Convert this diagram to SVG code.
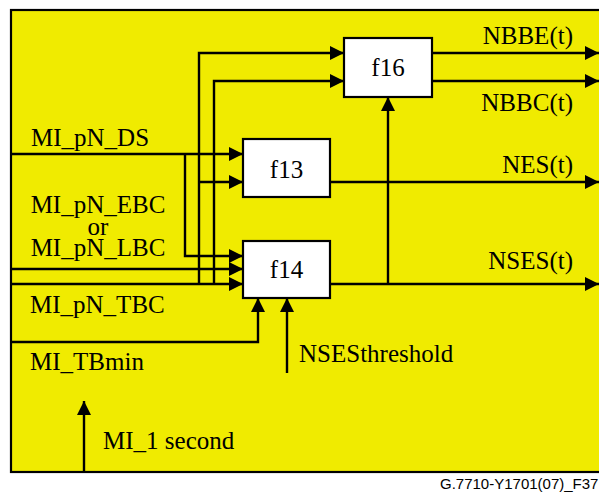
<svg xmlns="http://www.w3.org/2000/svg" width="599" height="493" viewBox="0 0 599 493">
<style>
.ln{fill:none;stroke:#000;stroke-width:2.4;}
.ar{fill:none;stroke:#000;stroke-width:2.4;marker-end:url(#ah);}
.box{fill:#fff;stroke:#000;stroke-width:2.2;}
.t{font-family:"Liberation Serif","Times New Roman",serif;font-size:25px;fill:#000;}
.c{text-anchor:middle;}
.e{text-anchor:end;}
.cap{font-family:"Liberation Sans",Arial,sans-serif;font-size:15px;fill:#000;}
</style>
<defs>
<marker id="ah" viewBox="0 0 14 14" refX="14" refY="7" markerWidth="14" markerHeight="14" markerUnits="userSpaceOnUse" orient="auto">
<path d="M0,0 L14,7 L0,14 z" fill="#000"/>
</marker>
</defs>
<rect x="11" y="10" width="600" height="462" fill="#F0EB00" stroke="#000" stroke-width="2.2"/>
<g id="connectors">
<path class="ar" d="M11,154 L243,154"/>
<path class="ar" d="M185,154 L185,256 L243,256"/>
<path class="ar" d="M11,269 L243,269"/>
<path class="ar" d="M11,284 L243,284"/>
<path class="ar" d="M199,284 L199,53 L344,53"/>
<path class="ar" d="M199,182 L243,182"/>
<path class="ar" d="M214,284 L214,81 L344,81"/>
<path class="ar" d="M432,53 L599,53"/>
<path class="ar" d="M432,81 L599,81"/>
<path class="ar" d="M330,182 L599,182"/>
<path class="ar" d="M330,284 L599,284"/>
<path class="ar" d="M388,284 L388,97"/>
<path class="ar" d="M11,342 L258,342 L258,298"/>
<path class="ar" d="M287,373 L287,298"/>
<path class="ar" d="M84,472 L84,401"/>
</g>
<g id="f16">
<rect class="box" x="344" y="38" width="88" height="59"/>
<text class="t c" x="388" y="76">f16</text>
</g>
<g id="f13">
<rect class="box" x="243" y="139" width="87" height="58"/>
<text class="t c" x="286.5" y="178">f13</text>
</g>
<g id="f14">
<rect class="box" x="243" y="241" width="87" height="57"/>
<text class="t c" x="286.5" y="278">f14</text>
</g>
<g id="labels">
<text class="t" x="31" y="146">MI_pN_DS</text>
<text class="t c" x="98" y="213">MI_pN_EBC</text>
<text class="t c" x="98" y="235">or</text>
<text class="t c" x="98" y="256">MI_pN_LBC</text>
<text class="t" x="30" y="313">MI_pN_TBC</text>
<text class="t" x="30" y="370">MI_TBmin</text>
<text class="t" x="103" y="449">MI_1 second</text>
<text class="t" x="299" y="362">NSESthreshold</text>
<text class="t e" x="573" y="44">NBBE(t)</text>
<text class="t e" x="573" y="111">NBBC(t)</text>
<text class="t e" x="573" y="173">NES(t)</text>
<text class="t e" x="573" y="269">NSES(t)</text>
<text class="cap" x="440" y="489">G.7710-Y1701(07)_F37</text>
</g>
</svg>
